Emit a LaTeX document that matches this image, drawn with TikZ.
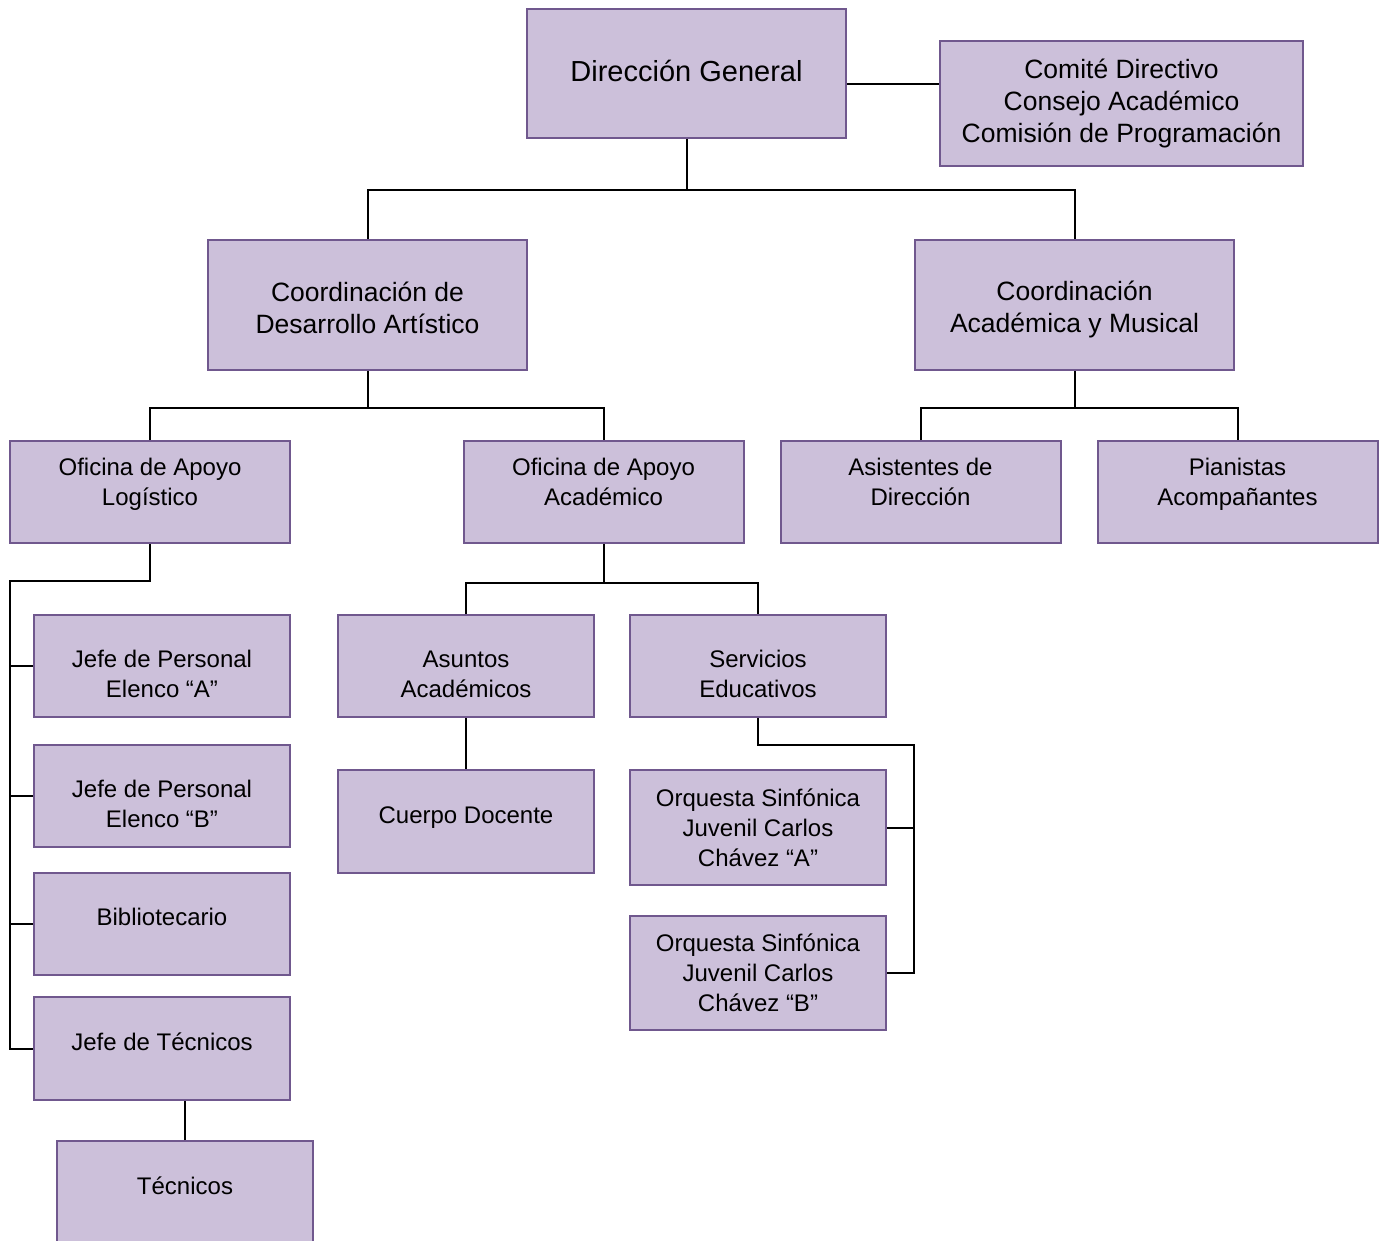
\documentclass[tikz,border=0pt]{standalone}
\usepackage{fontspec}
\setmainfont{Liberation Sans}
\definecolor{lila}{RGB}{204,192,218}
\definecolor{morado}{RGB}{112,88,142}
% puntales invisibles para subir (hondo) o bajar (alto) el texto
\newcommand{\hondo}[1]{\rule[-#1]{0pt}{#1}}
\newcommand{\alto}[1]{\rule{0pt}{#1}}
\begin{document}
\begin{tikzpicture}[
    x = 0.5pt, y = -0.5pt,
    caja/.style = {
        draw       = morado,
        fill       = lila,
        line width = 1pt,
        align      = center,
        inner sep  = 2pt,
        font       = \fontsize{12}{15}\selectfont
    },
    cajaG/.style = {
        caja,
        minimum width  = 159.5pt,
        minimum height = 65pt,
        font = \fontsize{13.25}{16}\selectfont
    },
    cajaM/.style = {
        caja,
        minimum width  = 140pt,
        minimum height = 51pt
    },
    cajaC/.style = {
        caja,
        minimum width  = 128pt,
        minimum height = 51pt
    },
    linea/.style = {
        black,
        line width = 1pt
    }
]

\useasboundingbox (0,0) rectangle (1384,1240);

% ================================================================
%  NIVEL 1: DIRECCION Y ORGANOS COLEGIADOS
% ================================================================

\node[cajaG, minimum height=64.5pt, font=\fontsize{14.5}{17}\selectfont]
    (dg) at (686.5, 73.5) {Dirección General\hondo{3pt}};

\node[cajaG, minimum width=181.5pt, minimum height=62.5pt]
    (comite) at (1121.5, 103.5)
    {Comité Directivo\\Consejo Académico\\Comisión de Programación};

% ================================================================
%  NIVEL 2: COORDINACIONES
% ================================================================

\node[cajaG] (cda) at (367.5, 305)
    {\alto{12.7pt}Coordinación de\\Desarrollo Artístico};
\node[cajaG] (cam) at (1074.5, 305)
    {\alto{14.7pt}Coordinación\\Académica y Musical};

% ================================================================
%  NIVEL 3: OFICINAS Y APOYOS
% ================================================================

\node[cajaM] (ofl) at (150, 492)    {Oficina de Apoyo\\Logístico\hondo{10.5pt}};
\node[cajaM] (ofa) at (603.5, 492)  {Oficina de Apoyo\\Académico\hondo{10pt}};
\node[cajaM] (asi) at (920.5, 492)  {Asistentes de\\Dirección\hondo{10pt}};
\node[cajaM] (pia) at (1237.5, 492) {Pianistas\\Acompañantes\hondo{10.5pt}};

% ================================================================
%  NIVEL 4: AREAS
% ================================================================

% columna logistica
\node[cajaC] (ja)  at (162, 666)    {\alto{16.8pt}Jefe de Personal\\Elenco “A”};
\node[cajaC] (jb)  at (162, 796)    {\alto{16.8pt}Jefe de Personal\\Elenco “B”};
\node[cajaC] (bib) at (162, 924)    {Bibliotecario\hondo{7pt}};
\node[cajaC, minimum height=51.5pt] (jt) at (162, 1048.5) {Jefe de Técnicos\hondo{7pt}};
\node[cajaC, minimum height=52pt]   (tec) at (185, 1193)  {Técnicos\hondo{7pt}};

% columna academica
\node[cajaC] (asu) at (466, 666)    {\alto{16.6pt}Asuntos\\Académicos};
\node[cajaC] (ser) at (758, 666)    {\alto{16.8pt}Servicios\\Educativos};
\node[cajaC, minimum height=51.5pt] (cd) at (466, 821.5) {Cuerpo Docente\hondo{6.5pt}};
\node[cajaC, minimum height=57.5pt] (oa) at (758, 827.5)
    {Orquesta Sinfónica\\Juvenil Carlos\\Chávez “A”};
\node[cajaC, minimum height=57pt]   (ob) at (758, 973)
    {Orquesta Sinfónica\\Juvenil Carlos\\Chávez “B”};

% ================================================================
%  CONECTORES
% ================================================================

\coordinate (r1) at (dg.south  |- 0, 190);
\coordinate (r2) at (cda.south |- 0, 408);
\coordinate (r3) at (cam.south |- 0, 408);
\coordinate (r4) at (10, 581);
\coordinate (r5) at (ofa.south |- 0, 583);
\coordinate (r6) at (914, 745);

% direccion
\draw[linea] (dg.east |- 0, 84) -- (comite.west |- 0, 84);
\draw[linea] (dg.south) -- (r1);
\draw[linea] (cda.north) |- (r1) -| (cam.north);

% coordinaciones
\draw[linea] (cda.south) -- (r2);
\draw[linea] (ofl.north) |- (r2) -| (ofa.north);
\draw[linea] (cam.south) -- (r3);
\draw[linea] (asi.north) |- (r3) -| (pia.north);

% apoyo logistico
\draw[linea] (ofl.south) |- (r4) |- (jt.west);
\foreach \n in {ja, jb, bib}{
    \draw[linea] (\n.west) -- (\n.west -| r4);
}
\draw[linea] (tec.north) -- (tec.north |- jt.south);

% apoyo academico
\draw[linea] (asu.north) |- (r5) -| (ser.north);
\draw[linea] (ofa.south) -- (r5);
\draw[linea] (asu.south) -- (cd.north);
\draw[linea] (ser.south) |- (r6) |- (ob.east);
\draw[linea] (oa.east) -- (oa.east -| r6);

\end{tikzpicture}
\end{document}
